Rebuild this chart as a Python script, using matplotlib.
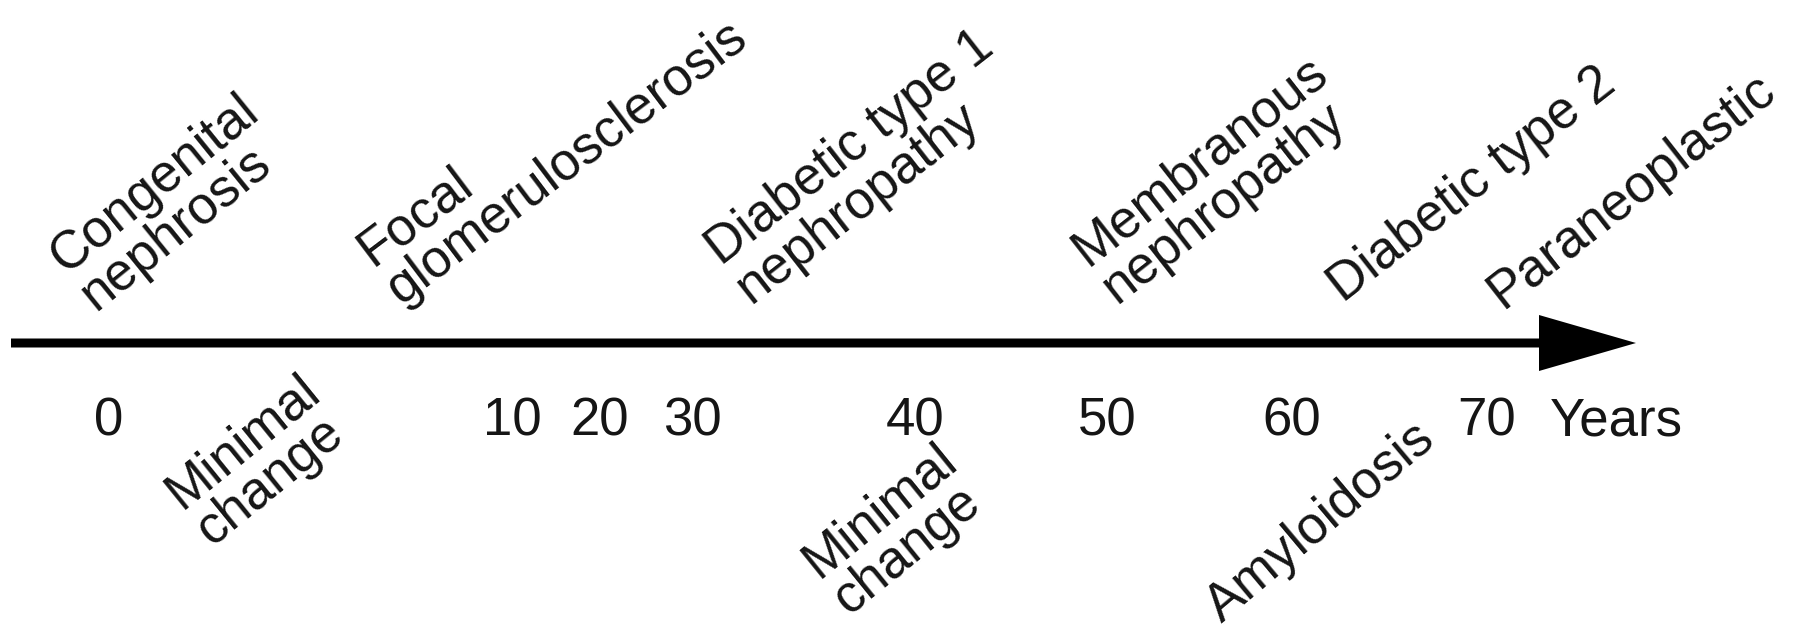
import matplotlib.pyplot as plt

# tick labels along the age axis
tick_labels = ["0", "10", "20", "30", "40", "50", "60", "70"]
axis_title = "Years"

# diseases written above and below the axis
upper_labels = ["Congenital\nnephrosis", "Focal\nglomerulosclerosis",
                "Diabetic type 1\nnephropathy", "Membranous\nnephropathy",
                "Diabetic type 2", "Paraneoplastic"]
lower_labels = ["Minimal\nchange", "Minimal\nchange", "Amyloidosis"]

# layout (figure pixels, y downwards) - the timeline is a sketch, not to scale
W, H = 1793, 635
tick_x = [109, 512, 600, 692, 915, 1107, 1292, 1487]
tick_y = 422
title_x = 1550
axis_y = 343
axis_x0, axis_x1 = 11, 1636
upper_xy = [(97, 313), (402, 307), (752, 306), (1118, 306), (1343, 303), (1503, 309)]
upper_rot = [39, 37, 38, 38, 38, 38]
lower_xy = [(213, 548), (850, 617), (1222, 624)]
lower_rot = [39, 39, 40]

plt.rcParams["font.family"] = ["Liberation Sans", "DejaVu Sans"]
col = "#151515"
fs = 38

fig = plt.figure(figsize=(W / 100, H / 100), dpi=100)
ax = fig.add_axes([0, 0, 1, 1])
ax.set_xlim(0, W)
ax.set_ylim(H, 0)
ax.axis("off")

ax.arrow(axis_x0, axis_y, axis_x1 - axis_x0, 0, width=9, head_width=56,
         head_length=97, length_includes_head=True, fc="black", ec="none")

for x, lab in zip(tick_x, tick_labels):
    ax.text(x, tick_y, lab, ha="center", va="center", fontsize=fs, color=col)
ax.text(title_x, tick_y, axis_title, ha="left", va="center", fontsize=fs, color=col)

for (x, y), r, lab in zip(upper_xy + lower_xy, upper_rot + lower_rot,
                          upper_labels + lower_labels):
    ax.text(x, y, lab, rotation=r, rotation_mode="anchor", ha="left",
            va="baseline", fontsize=fs, color=col, linespacing=0.95)

fig.savefig("out.png", dpi=100, facecolor="white")
